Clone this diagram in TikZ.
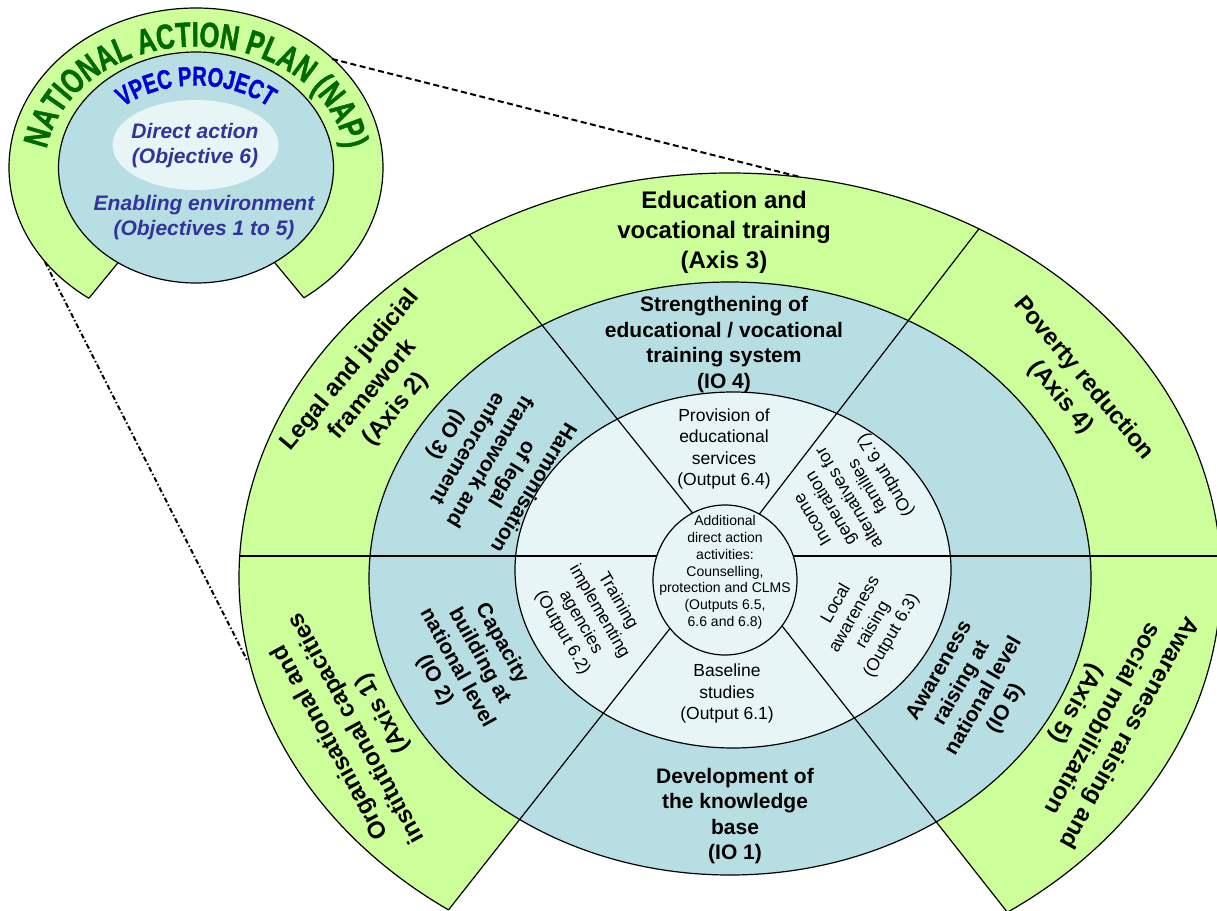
\documentclass[tikz,border=0pt]{standalone}
\usepackage{fontspec}
\setmainfont{Liberation Sans}
\newfontfamily\arcfont[FakeStretch=0.73,FakeBold=1.2]{Liberation Sans}
\newfontfamily\vpecfont[FakeStretch=0.74,FakeBold=1.2]{Liberation Sans}
\usetikzlibrary{decorations.text}
\definecolor{ringgreen}{RGB}{204,255,153}
\definecolor{ioblue}{RGB}{183,222,227}
\definecolor{outlight}{RGB}{232,245,246}
\definecolor{smalltext}{RGB}{51,51,153}
\definecolor{napgreen}{RGB}{0,105,0}
\definecolor{vpecblue}{RGB}{0,0,215}
\tikzset{
  every node/.style={inner sep=0pt, outer sep=0pt},
  ln/.style={line width=1.2pt, black},
  shapefill/.style={line width=1.2pt, draw=black},
  axtxt/.style={align=center, font=\bfseries\fontsize{24}{30}\selectfont},
  iotxt/.style={align=center, font=\bfseries\fontsize{21}{25.5}\selectfont},
  outtxt/.style={align=center, font=\fontsize{17.5}{21.3}\selectfont},
  ctrtxt/.style={align=center, font=\fontsize{14}{16.8}\selectfont},
  smalltxt/.style={align=center, text=smalltext, font=\bfseries\itshape\fontsize{21}{25.5}\selectfont},
  dashline/.style={line width=2pt, dash pattern=on 6pt off 3.5pt},
  dashdotline/.style={line width=2pt, dash pattern=on 5pt off 2.5pt on 1.5pt off 2.5pt},
}
\begin{document}
\begin{tikzpicture}[x=1pt,y=1pt]
\path[use as bounding box] (0,0) rectangle (1217,-910);
\clip (0,0) rectangle (1217,-910);

% ---------------- main diagram ----------------
\coordinate (C) at (727,-556);
\coordinate (r1) at (1154.1,-1.4);
\coordinate (r2) at (289.4,-9.7);
\coordinate (r3) at (294.1,-1106.1);
\coordinate (r4) at (1159.9,-1106.1);
\coordinate (hl) at (0,-556);
\coordinate (hr) at (1300,-556);

\begin{scope}
  \clip (727,-556) -- (170.6,-1263.4) -- (-100,-1263.4) -- (-100,100) -- (1400,100) -- (1400,-1263.4) -- (1283.6,-1263.4) -- cycle;
  \path[shapefill, fill=ringgreen] (730,-578) ellipse [x radius=491, y radius=405];
\end{scope}
\path[shapefill, fill=ioblue] (730,-578.5) ellipse [x radius=361, y radius=296.5];
\path[shapefill, fill=outlight] (733,-570) ellipse [x radius=218, y radius=178];
\begin{scope}
  \clip (730,-578) ellipse [x radius=491, y radius=405];
  \draw[ln] (C) -- (r1);
  \draw[ln] (C) -- (r2);
  \draw[ln] (C) -- (r3);
  \draw[ln] (C) -- (r4);
  \draw[ln] (hl) -- (hr);
\end{scope}
\path[shapefill, fill=outlight] (725,-580) ellipse [x radius=72, y radius=75];

% outer ring texts
\node[axtxt] (ax3) at (724,-232.5) {Education and\\vocational training\\(Axis 3)};
\node[axtxt, rotate=50] (ax2) at (373,-390) {Legal and judicial\\framework\\(Axis 2)};
\node[axtxt, rotate=-50] (ax4) at (1072,-388) {Poverty reduction\\(Axis 4)};
\node[axtxt, rotate=118.7] (ax1) at (357,-728) {Organisational and\\institutional capacities\\(Axis 1)};
\node[axtxt, rotate=241] (ax5) at (1102,-718) {Awareness raising and\\social mobilization\\(Axis 5)};

% blue ring texts
\node[iotxt] (io4) at (724,-344.5) {Strengthening of\\educational / vocational\\training system\\(IO 4)};
\node[iotxt, rotate=239] (io3) at (489,-461) {Harmonisation\\of legal\\framework and\\enforcement\\(IO 3)};
\node[iotxt, rotate=-61] (io2) at (468,-662) {Capacity\\building at\\national level\\(IO 2)};
\node[iotxt] (io1) at (735,-816) {Development of\\the knowledge\\base\\(IO 1)};
\node[iotxt, rotate=60] (io5) at (973,-690) {Awareness\\raising at\\national level\\(IO 5)};

% light ring texts
\node[outtxt] (o64) at (724,-449) {Provision of\\educational\\services\\(Output 6.4)};
\node[outtxt, rotate=121] (o67) at (850,-497) {Income\\generation\\alternatives for\\families\\(Output 6.7)};
\node[outtxt, rotate=-60] (o62) at (590,-617) {Training\\implementing\\agencies\\(Output 6.2)};
\node[outtxt] (o61) at (727,-693.5) {Baseline\\studies\\(Output 6.1)};
\node[outtxt, rotate=60] (o63) at (864,-620) {Local\\awareness\\raising\\(Output 6.3)};

% centre
\node[ctrtxt] (ctr) at (725,-572.5) {Additional\\direct action\\activities:\\Counselling,\\protection and CLMS\\(Outputs 6.5,\\6.6 and 6.8)};

% ---------------- small NAP diagram ----------------
\coordinate (S) at (196,-167.5);
\coordinate (sL) at (37.6,-360.9);
\coordinate (sR) at (355.4,-360.1);
\begin{scope}
  \clip (196,-167.5) -- (5.9,-399.6) -- (-50,-399.6) -- (-50,50) -- (450,50) -- (450,-399.6) -- (387.3,-398.6) -- cycle;
  \path[shapefill, fill=ringgreen] (196,-167.5) ellipse [x radius=187, y radius=159.5];
\end{scope}
\begin{scope}
  \clip (196,-167.5) ellipse [x radius=187, y radius=159.5];
  \draw[ln] (S) -- (sL);
  \draw[ln] (S) -- (sR);
\end{scope}
\path[shapefill, fill=ioblue] (196,-167.5) ellipse [x radius=137.5, y radius=115.5];
\fill[outlight] (195.5,-145) ellipse [x radius=83, y radius=45];
\node[smalltxt] (da) at (195,-145.5) {Direct action\\(Objective 6)};
\node[smalltxt] (ee) at (204,-217.5) {Enabling environment\\(Objectives 1 to 5)};

\path[decorate, decoration={text along path, text align=center,
  text={|\arcfont\bfseries\fontsize{35}{35}\selectfont\color{napgreen}|NATIONAL ACTION PLAN (NAP)}}]
  ([shift={(196,-167.5)}]178:151 and 121) arc[start angle=178, end angle=2, x radius=151, y radius=121];
\path[decorate, decoration={text along path, text align=center,
  text={|\vpecfont\bfseries\fontsize{27}{27}\selectfont\color{vpecblue}|VPEC PROJECT}}]
  ([shift={(196,-167.5)}]165:108 and 82) arc[start angle=165, end angle=15, x radius=108, y radius=82];

% ---------------- dashed links ----------------
\coordinate (d1a) at (332,-59);
\coordinate (d1b) at (800,-177);
\coordinate (d2a) at (45,-262);
\coordinate (d2b) at (248,-662);
\draw[dashline] (d1a) -- (d1b);
\draw[dashdotline] (d2a) -- (d2b);
\end{tikzpicture}
\end{document}
